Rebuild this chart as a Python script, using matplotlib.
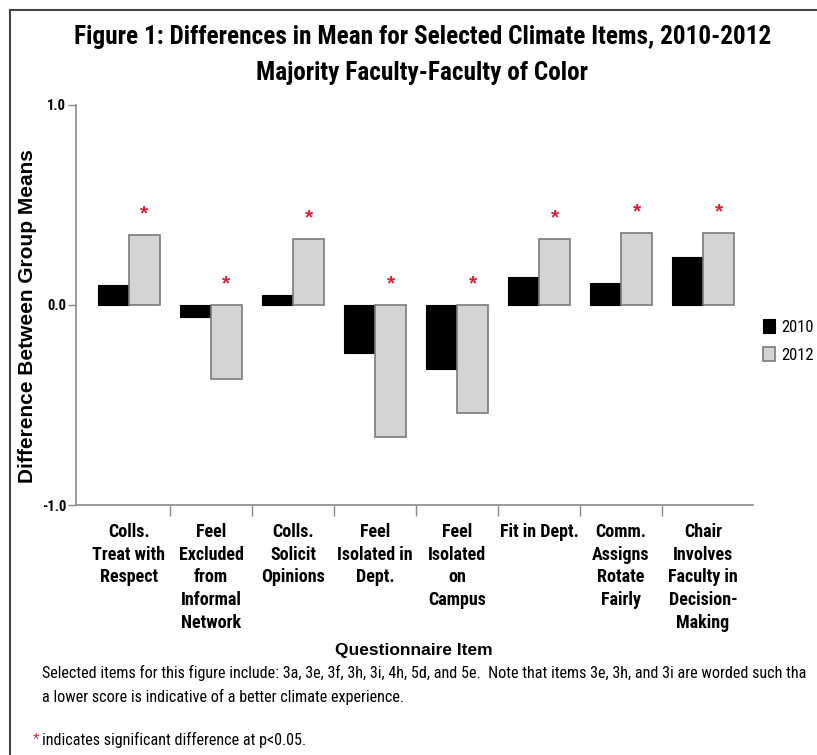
import matplotlib
matplotlib.use("Agg")
import matplotlib.pyplot as plt
from matplotlib import font_manager

# data
ITEMS = [
    "Colls.\nTreat with\nRespect",
    "Feel\nExcluded\nfrom\nInformal\nNetwork",
    "Colls.\nSolicit\nOpinions",
    "Feel\nIsolated in\nDept.",
    "Feel\nIsolated\non\nCampus",
    "Fit in Dept.",
    "Comm.\nAssigns\nRotate\nFairly",
    "Chair\nInvolves\nFaculty in\nDecision-\nMaking",
]
DIFF_2010 = [0.10, -0.06, 0.05, -0.24, -0.32, 0.14, 0.11, 0.24]
DIFF_2012 = [0.35, -0.37, 0.33, -0.66, -0.54, 0.33, 0.36, 0.36]
SIGNIFICANT = [True, True, True, True, True, True, True, True]
YTICKS = [-1.0, 0.0, 1.0]

installed = {f.name for f in font_manager.fontManager.ttflist}
NARROW, SHRINK = "Liberation Sans", 0.82
for name in ["Liberation Sans Narrow", "Arial Narrow", "Roboto Condensed",
             "Barlow Semi Condensed"]:
    if name in installed:
        NARROW, SHRINK = name, 1.0
        break
WIDE = "Liberation Sans"


def nsize(pt):
    return pt * SHRINK


AXIS_GREY = "#8a8a8a"
BAR_GREY = "#d4d4d4"
STAR_RED = "#d62035"

fig = plt.figure(figsize=(8.17, 7.55), dpi=100)
ax = fig.add_axes([0.093, 0.3311, 0.8287, 0.5299])

width = 0.378
xs = list(range(len(ITEMS)))
ax.bar([x - width / 2 for x in xs], DIFF_2010, width, color="black",
       edgecolor="black", linewidth=0.8, label="2010")
ax.bar([x + width / 2 for x in xs], DIFF_2012, width, color=BAR_GREY,
       edgecolor="#7a7a7a", linewidth=1.2, label="2012")

for x, v, sig in zip(xs, DIFF_2012, SIGNIFICANT):
    if sig:
        ax.text(x + width / 2, max(v, 0) + 0.105, "*", color=STAR_RED,
                ha="center", va="center", fontsize=15, fontweight="bold",
                family=WIDE)

ax.set_xlim(-0.646, 7.61)
ax.set_ylim(-1.0, 1.0)
ax.set_yticks(YTICKS)
ax.set_yticklabels([f"{t:.1f}" for t in YTICKS], fontsize=nsize(10.5),
                   fontweight="bold", family=NARROW)
ax.tick_params(axis="y", direction="out", length=6, width=1, color=AXIS_GREY, pad=1)

ax.set_xticks([x + 0.5 for x in xs[:-1]])
ax.set_xticklabels([])
ax.tick_params(axis="x", which="major", direction="out", length=8, width=1,
               color=AXIS_GREY)
ax.set_xticks(xs, minor=True)
ax.set_xticklabels(ITEMS, minor=True, fontsize=nsize(13), fontweight="bold",
                   family=NARROW, linespacing=1.33, va="top")
ax.tick_params(axis="x", which="minor", length=0, pad=13)

for side in ("top", "right"):
    ax.spines[side].set_visible(False)
for side in ("left", "bottom"):
    ax.spines[side].set_color(AXIS_GREY)
    ax.spines[side].set_linewidth(1.2)

ax.set_ylabel("Difference Between Group Means", fontsize=15, fontweight="bold",
              family=WIDE)
ax.yaxis.set_label_coords(-0.058, 0.4725)

fig.legend(loc="upper left", bbox_to_anchor=(0.915, 0.597), frameon=False,
           handlelength=0.75, handleheight=0.9, handletextpad=0.4,
           labelspacing=0.75, prop={"family": NARROW, "size": nsize(12)})

fig.text(0.517, 0.951, "Figure 1: Differences in Mean for Selected Climate Items, 2010-2012",
         ha="center", va="center", fontsize=nsize(18.2), fontweight="bold", family=NARROW)
fig.text(0.517, 0.903, "Majority Faculty-Faculty of Color",
         ha="center", va="center", fontsize=nsize(18.2), fontweight="bold", family=NARROW)

fig.text(0.506, 0.139, "Questionnaire Item", ha="center", va="center",
         fontsize=12.5, fontweight="bold", family=WIDE)
fig.text(0.051, 0.108,
         "Selected items for this figure include: 3a, 3e, 3f, 3h, 3i, 4h, 5d, and 5e.  "
         "Note that items 3e, 3h, and 3i are worded such tha",
         ha="left", va="center", fontsize=nsize(11.6), family=NARROW)
fig.text(0.051, 0.077, "a lower score is indicative of a better climate experience.",
         ha="left", va="center", fontsize=nsize(11.6), family=NARROW)
fig.text(0.040, 0.021, "*", ha="left", va="center", fontsize=12, color=STAR_RED,
         family=WIDE)
fig.text(0.051, 0.020, "indicates significant difference at p<0.05.",
         ha="left", va="center", fontsize=nsize(11.6), family=NARROW)

# frame lines along the top and left edges
fig.add_artist(plt.Line2D([0.0122, 1.0], [0.9868, 0.9868], color="#444444", lw=1.5))
fig.add_artist(plt.Line2D([0.0122, 0.0122], [0.0, 0.9868], color="#444444", lw=1.5))

fig.savefig("out.png", dpi=100)
